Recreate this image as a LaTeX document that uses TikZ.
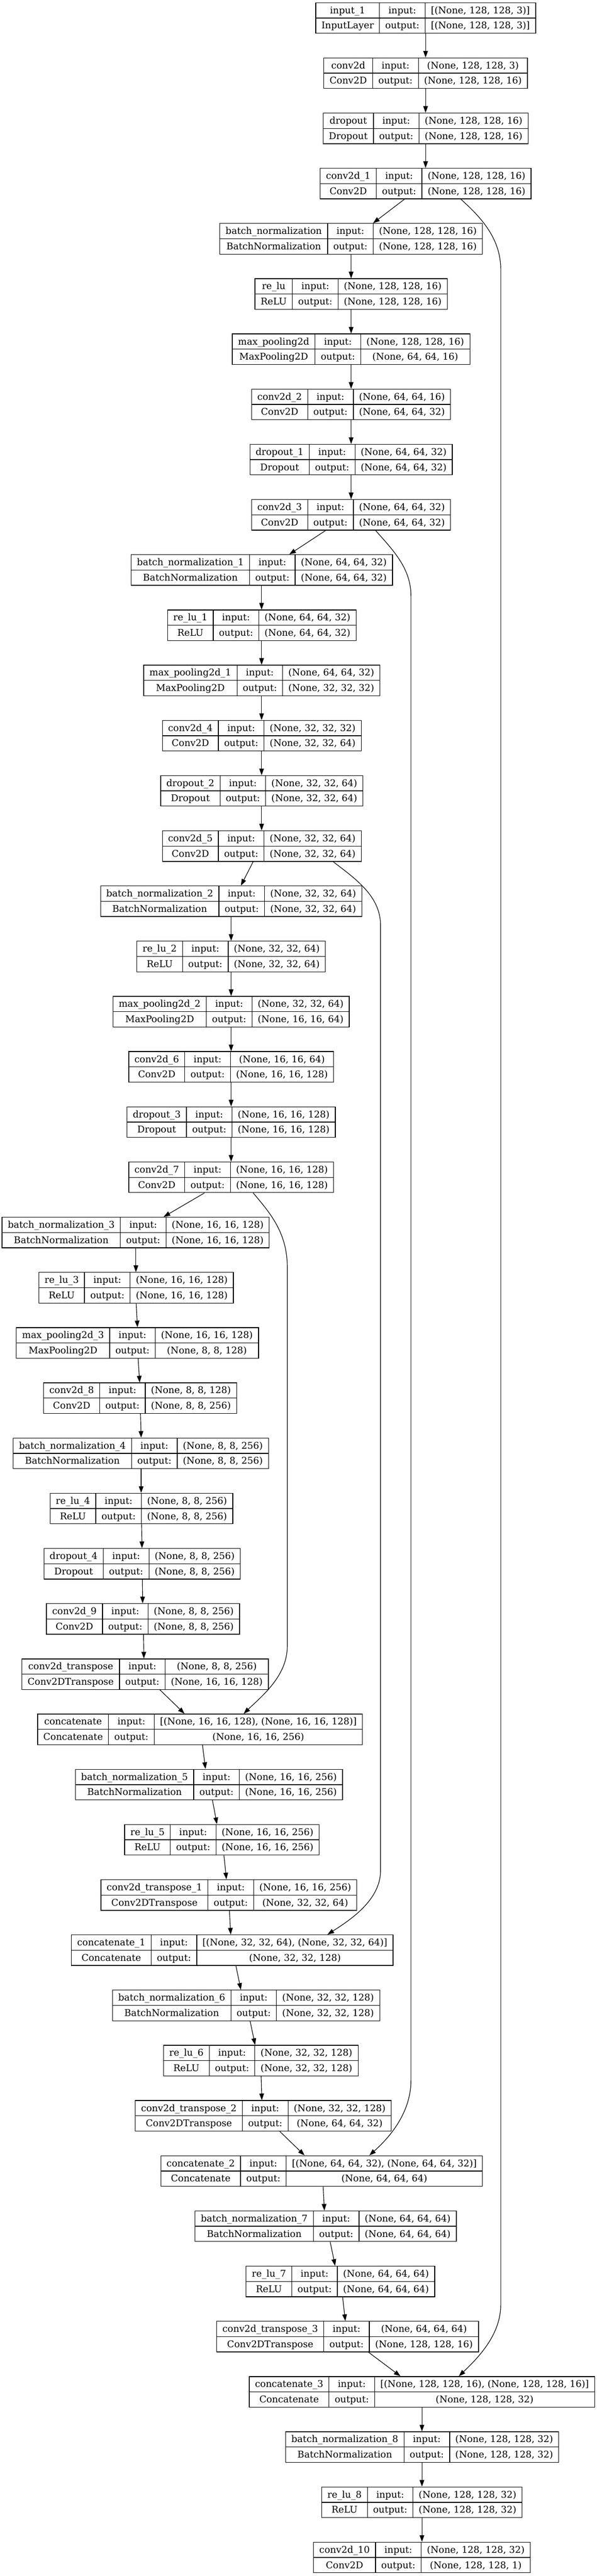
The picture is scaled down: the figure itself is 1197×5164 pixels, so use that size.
\documentclass[tikz,border=0pt]{standalone}
\usepackage{fontspec}
\setmainfont{DejaVu Serif}
\usetikzlibrary{arrows.meta}
\font\measfnt="DejaVu Serif" at 14pt
\newcommand\lfont{\measfnt}
\newdimen\lwa \newdimen\lwb \newdimen\lwc \newdimen\ltmp
\newbox\lbox
\newcommand\lmeasure[2]{\setbox\lbox\hbox{\measfnt #2}#1=\wd\lbox}
\tikzset{
  txt/.style={anchor=base, inner sep=0pt, font=\measfnt},
  boxline/.style={line width=1pt, draw=black},
  conn/.style={draw=black, line width=0.9pt, -{Triangle[length=10pt,width=7pt]}}
}
% #1 id, #2 centre x (px), #3 rank, #4 name, #5 class, #6 input, #7 output
\newcommand\lay[7]{%
  \lmeasure\lwa{#4}\lmeasure\ltmp{#5}\ifdim\ltmp>\lwa \lwa=\ltmp\fi
  \lmeasure\lwb{output:}%
  \lmeasure\lwc{#6}\lmeasure\ltmp{#7}\ifdim\ltmp>\lwc \lwc=\ltmp\fi
  \pgfmathsetmacro\cA{\the\lwa/0.75+23}%
  \pgfmathsetmacro\cB{\the\lwb/0.75+23}%
  \pgfmathsetmacro\cC{\the\lwc/0.75+23}%
  \pgfmathsetmacro\cW{\cA+\cB+\cC}%
  \pgfmathsetmacro\cWpt{\cW*0.75}%
  \pgfmathsetmacro\cL{#2-\cW/2}%
  \pgfmathsetmacro\cT{5.33+110.67*#3}%
  \pgfmathsetmacro\cY{\cT+30.67}%
  \node[boxline, inner sep=0pt, minimum width=\cWpt pt, minimum height=46pt] (#1) at (#2,\cY) {};
  \draw[boxline] (\cL+\cA,\cT) -- ++(0,61.33) (\cL+\cA+\cB,\cT) -- ++(0,61.33) (\cL,\cY) -- ++(\cW,0);
  \node[txt] at (\cL+\cA/2,\cT+21.6) {#4};
  \node[txt] at (\cL+\cA/2,\cT+52.3) {#5};
  \node[txt] at (\cL+\cA+\cB/2,\cT+21.6) {input:};
  \node[txt] at (\cL+\cA+\cB/2,\cT+52.3) {output:};
  \node[txt] at (\cL+\cA+\cB+\cC/2,\cT+21.6) {#6};
  \node[txt] at (\cL+\cA+\cB+\cC/2,\cT+52.3) {#7};
}
\newcommand\conn[4]{\draw[conn] (#1.south -| #2,0) -- (#3.north -| #4,0);}
\begin{document}
\begin{tikzpicture}[x=0.75pt,y=-0.75pt]
\fill[white] (0,0) rectangle (1197,5164);
\useasboundingbox (0,0) rectangle (1197,5164);
\lay{input1}{853.5}{0}{input\_1}{InputLayer}{[(None, 128, 128, 3)]}{[(None, 128, 128, 3)]}
\lay{conv2d}{853.5}{1}{conv2d}{Conv2D}{(None, 128, 128, 3)}{(None, 128, 128, 16)}
\lay{dropout}{853.5}{2}{dropout}{Dropout}{(None, 128, 128, 16)}{(None, 128, 128, 16)}
\lay{conv2d1}{853.5}{3}{conv2d\_1}{Conv2D}{(None, 128, 128, 16)}{(None, 128, 128, 16)}
\lay{bn}{704}{4}{batch\_normalization}{BatchNormalization}{(None, 128, 128, 16)}{(None, 128, 128, 16)}
\lay{relu}{704}{5}{re\_lu}{ReLU}{(None, 128, 128, 16)}{(None, 128, 128, 16)}
\lay{mp}{704}{6}{max\_pooling2d}{MaxPooling2D}{(None, 128, 128, 16)}{(None, 64, 64, 16)}
\lay{conv2d2}{704}{7}{conv2d\_2}{Conv2D}{(None, 64, 64, 16)}{(None, 64, 64, 32)}
\lay{dropout1}{704}{8}{dropout\_1}{Dropout}{(None, 64, 64, 32)}{(None, 64, 64, 32)}
\lay{conv2d3}{704}{9}{conv2d\_3}{Conv2D}{(None, 64, 64, 32)}{(None, 64, 64, 32)}
\lay{bn1}{525}{10}{batch\_normalization\_1}{BatchNormalization}{(None, 64, 64, 32)}{(None, 64, 64, 32)}
\lay{relu1}{525}{11}{re\_lu\_1}{ReLU}{(None, 64, 64, 32)}{(None, 64, 64, 32)}
\lay{mp1}{525}{12}{max\_pooling2d\_1}{MaxPooling2D}{(None, 64, 64, 32)}{(None, 32, 32, 32)}
\lay{conv2d4}{525}{13}{conv2d\_4}{Conv2D}{(None, 32, 32, 32)}{(None, 32, 32, 64)}
\lay{dropout2}{525}{14}{dropout\_2}{Dropout}{(None, 32, 32, 64)}{(None, 32, 32, 64)}
\lay{conv2d5}{525}{15}{conv2d\_5}{Conv2D}{(None, 32, 32, 64)}{(None, 32, 32, 64)}
\lay{bn2}{463.5}{16}{batch\_normalization\_2}{BatchNormalization}{(None, 32, 32, 64)}{(None, 32, 32, 64)}
\lay{relu2}{463.5}{17}{re\_lu\_2}{ReLU}{(None, 32, 32, 64)}{(None, 32, 32, 64)}
\lay{mp2}{463.5}{18}{max\_pooling2d\_2}{MaxPooling2D}{(None, 32, 32, 64)}{(None, 16, 16, 64)}
\lay{conv2d6}{463.5}{19}{conv2d\_6}{Conv2D}{(None, 16, 16, 64)}{(None, 16, 16, 128)}
\lay{dropout3}{463.5}{20}{dropout\_3}{Dropout}{(None, 16, 16, 128)}{(None, 16, 16, 128)}
\lay{conv2d7}{463.5}{21}{conv2d\_7}{Conv2D}{(None, 16, 16, 128)}{(None, 16, 16, 128)}
\lay{bn3}{272}{22}{batch\_normalization\_3}{BatchNormalization}{(None, 16, 16, 128)}{(None, 16, 16, 128)}
\lay{relu3}{273}{23}{re\_lu\_3}{ReLU}{(None, 16, 16, 128)}{(None, 16, 16, 128)}
\lay{mp3}{275.6}{24}{max\_pooling2d\_3}{MaxPooling2D}{(None, 16, 16, 128)}{(None, 8, 8, 128)}
\lay{conv2d8}{281}{25}{conv2d\_8}{Conv2D}{(None, 8, 8, 128)}{(None, 8, 8, 256)}
\lay{bn4}{282.5}{26}{batch\_normalization\_4}{BatchNormalization}{(None, 8, 8, 256)}{(None, 8, 8, 256)}
\lay{relu4}{283.6}{27}{re\_lu\_4}{ReLU}{(None, 8, 8, 256)}{(None, 8, 8, 256)}
\lay{dropout4}{285}{28}{dropout\_4}{Dropout}{(None, 8, 8, 256)}{(None, 8, 8, 256)}
\lay{conv2d9}{286.6}{29}{conv2d\_9}{Conv2D}{(None, 8, 8, 256)}{(None, 8, 8, 256)}
\lay{convt}{291}{30}{conv2d\_transpose}{Conv2DTranspose}{(None, 8, 8, 256)}{(None, 16, 16, 128)}
\lay{cat}{401}{31}{concatenate}{Concatenate}{[(None, 16, 16, 128), (None, 16, 16, 128)]}{(None, 16, 16, 256)}
\lay{bn5}{419}{32}{batch\_normalization\_5}{BatchNormalization}{(None, 16, 16, 256)}{(None, 16, 16, 256)}
\lay{relu5}{445}{33}{re\_lu\_5}{ReLU}{(None, 16, 16, 256)}{(None, 16, 16, 256)}
\lay{convt1}{459}{34}{conv2d\_transpose\_1}{Conv2DTranspose}{(None, 16, 16, 256)}{(None, 32, 32, 64)}
\lay{cat1}{465.7}{35}{concatenate\_1}{Concatenate}{[(None, 32, 32, 64), (None, 32, 32, 64)]}{(None, 32, 32, 128)}
\lay{bn6}{493.5}{36}{batch\_normalization\_6}{BatchNormalization}{(None, 32, 32, 128)}{(None, 32, 32, 128)}
\lay{relu6}{523}{37}{re\_lu\_6}{ReLU}{(None, 32, 32, 128)}{(None, 32, 32, 128)}
\lay{convt2}{528}{38}{conv2d\_transpose\_2}{Conv2DTranspose}{(None, 32, 32, 128)}{(None, 64, 64, 32)}
\lay{cat2}{645}{39}{concatenate\_2}{Concatenate}{[(None, 64, 64, 32), (None, 64, 64, 32)]}{(None, 64, 64, 64)}
\lay{bn7}{653}{40}{batch\_normalization\_7}{BatchNormalization}{(None, 64, 64, 64)}{(None, 64, 64, 64)}
\lay{relu7}{682.5}{41}{re\_lu\_7}{ReLU}{(None, 64, 64, 64)}{(None, 64, 64, 64)}
\lay{convt3}{697}{42}{conv2d\_transpose\_3}{Conv2DTranspose}{(None, 64, 64, 64)}{(None, 128, 128, 16)}
\lay{cat3}{846}{43}{concatenate\_3}{Concatenate}{[(None, 128, 128, 16), (None, 128, 128, 16)]}{(None, 128, 128, 32)}
\lay{bn8}{846.5}{44}{batch\_normalization\_8}{BatchNormalization}{(None, 128, 128, 32)}{(None, 128, 128, 32)}
\lay{relu8}{846}{45}{re\_lu\_8}{ReLU}{(None, 128, 128, 32)}{(None, 128, 128, 32)}
\lay{conv2d10}{846}{46}{conv2d\_10}{Conv2D}{(None, 128, 128, 32)}{(None, 128, 128, 1)}
% main chain
\conn{input1}{853.3}{conv2d}{853.3}
\conn{conv2d}{853.3}{dropout}{853.3}
\conn{dropout}{853.3}{conv2d1}{853.3}
\conn{conv2d1}{811}{bn}{748}
\conn{bn}{704}{relu}{704}
\conn{relu}{704}{mp}{704}
\conn{mp}{704}{conv2d2}{704}
\conn{conv2d2}{704}{dropout1}{704}
\conn{dropout1}{704}{conv2d3}{704}
\conn{conv2d3}{653}{bn1}{580}
\conn{bn1}{524.5}{relu1}{524.5}
\conn{relu1}{524.5}{mp1}{524.5}
\conn{mp1}{524.5}{conv2d4}{524.5}
\conn{conv2d4}{524.5}{dropout2}{524.5}
\conn{dropout2}{524.5}{conv2d5}{524.5}
\conn{conv2d5}{507.6}{bn2}{483}
\conn{bn2}{463.4}{relu2}{463.4}
\conn{relu2}{463.4}{mp2}{463.4}
\conn{mp2}{463.4}{conv2d6}{463.4}
\conn{conv2d6}{463.4}{dropout3}{463.4}
\conn{dropout3}{463.4}{conv2d7}{463.4}
\conn{conv2d7}{410}{bn3}{328}
\conn{bn3}{272.5}{relu3}{272.5}
\conn{relu3}{273}{mp3}{275.6}
\conn{mp3}{277}{conv2d8}{280}
\conn{conv2d8}{281.7}{bn4}{283}
\conn{bn4}{283}{relu4}{283}
\conn{relu4}{284}{dropout4}{284.7}
\conn{dropout4}{285.5}{conv2d9}{286}
\conn{conv2d9}{287.8}{convt}{288.5}
\conn{convt}{320.6}{cat}{370}
\conn{cat}{406}{bn5}{412}
\conn{bn5}{426}{relu5}{435}
\conn{relu5}{449}{convt1}{454}
\conn{convt1}{460}{cat1}{462.6}
\conn{cat1}{473}{bn6}{483}
\conn{bn6}{501.5}{relu6}{511.5}
\conn{relu6}{523.6}{convt2}{525}
\conn{convt2}{561}{cat2}{610.7}
\conn{cat2}{648}{bn7}{650.4}
\conn{bn7}{662}{relu7}{672}
\conn{relu7}{687}{convt3}{692.4}
\conn{convt3}{739}{cat3}{803}
\conn{cat3}{846}{bn8}{846}
\conn{bn8}{846}{relu8}{846}
\conn{relu8}{846}{conv2d10}{846}
% skip connections
\draw[conn] (conv2d1.south -| 924,0) .. controls (960,432) and (1004,475) .. (1004,540)
  -- (1004,4620) .. controls (1004,4680) and (960,4725) .. (cat3.north -| 920,0);
\draw[conn] (conv2d3.south -| 753,0) .. controls (790,1105) and (824,1140) .. (824,1195)
  -- (824,4170) .. controls (824,4240) and (775,4290) .. (cat2.north -| 740.5,0);
\draw[conn] (conv2d5.south -| 668,0) .. controls (710,1760) and (763,1795) .. (763,1855)
  -- (763,3750) .. controls (763,3810) and (700,3850) .. (cat1.north -| 656.5,0);
\draw[conn] (conv2d7.south -| 507.6,0) .. controls (540,2430) and (576,2470) .. (576,2540)
  -- (576,3300) .. controls (576,3360) and (525,3400) .. (cat.north -| 488.5,0);
\end{tikzpicture}
\end{document}
